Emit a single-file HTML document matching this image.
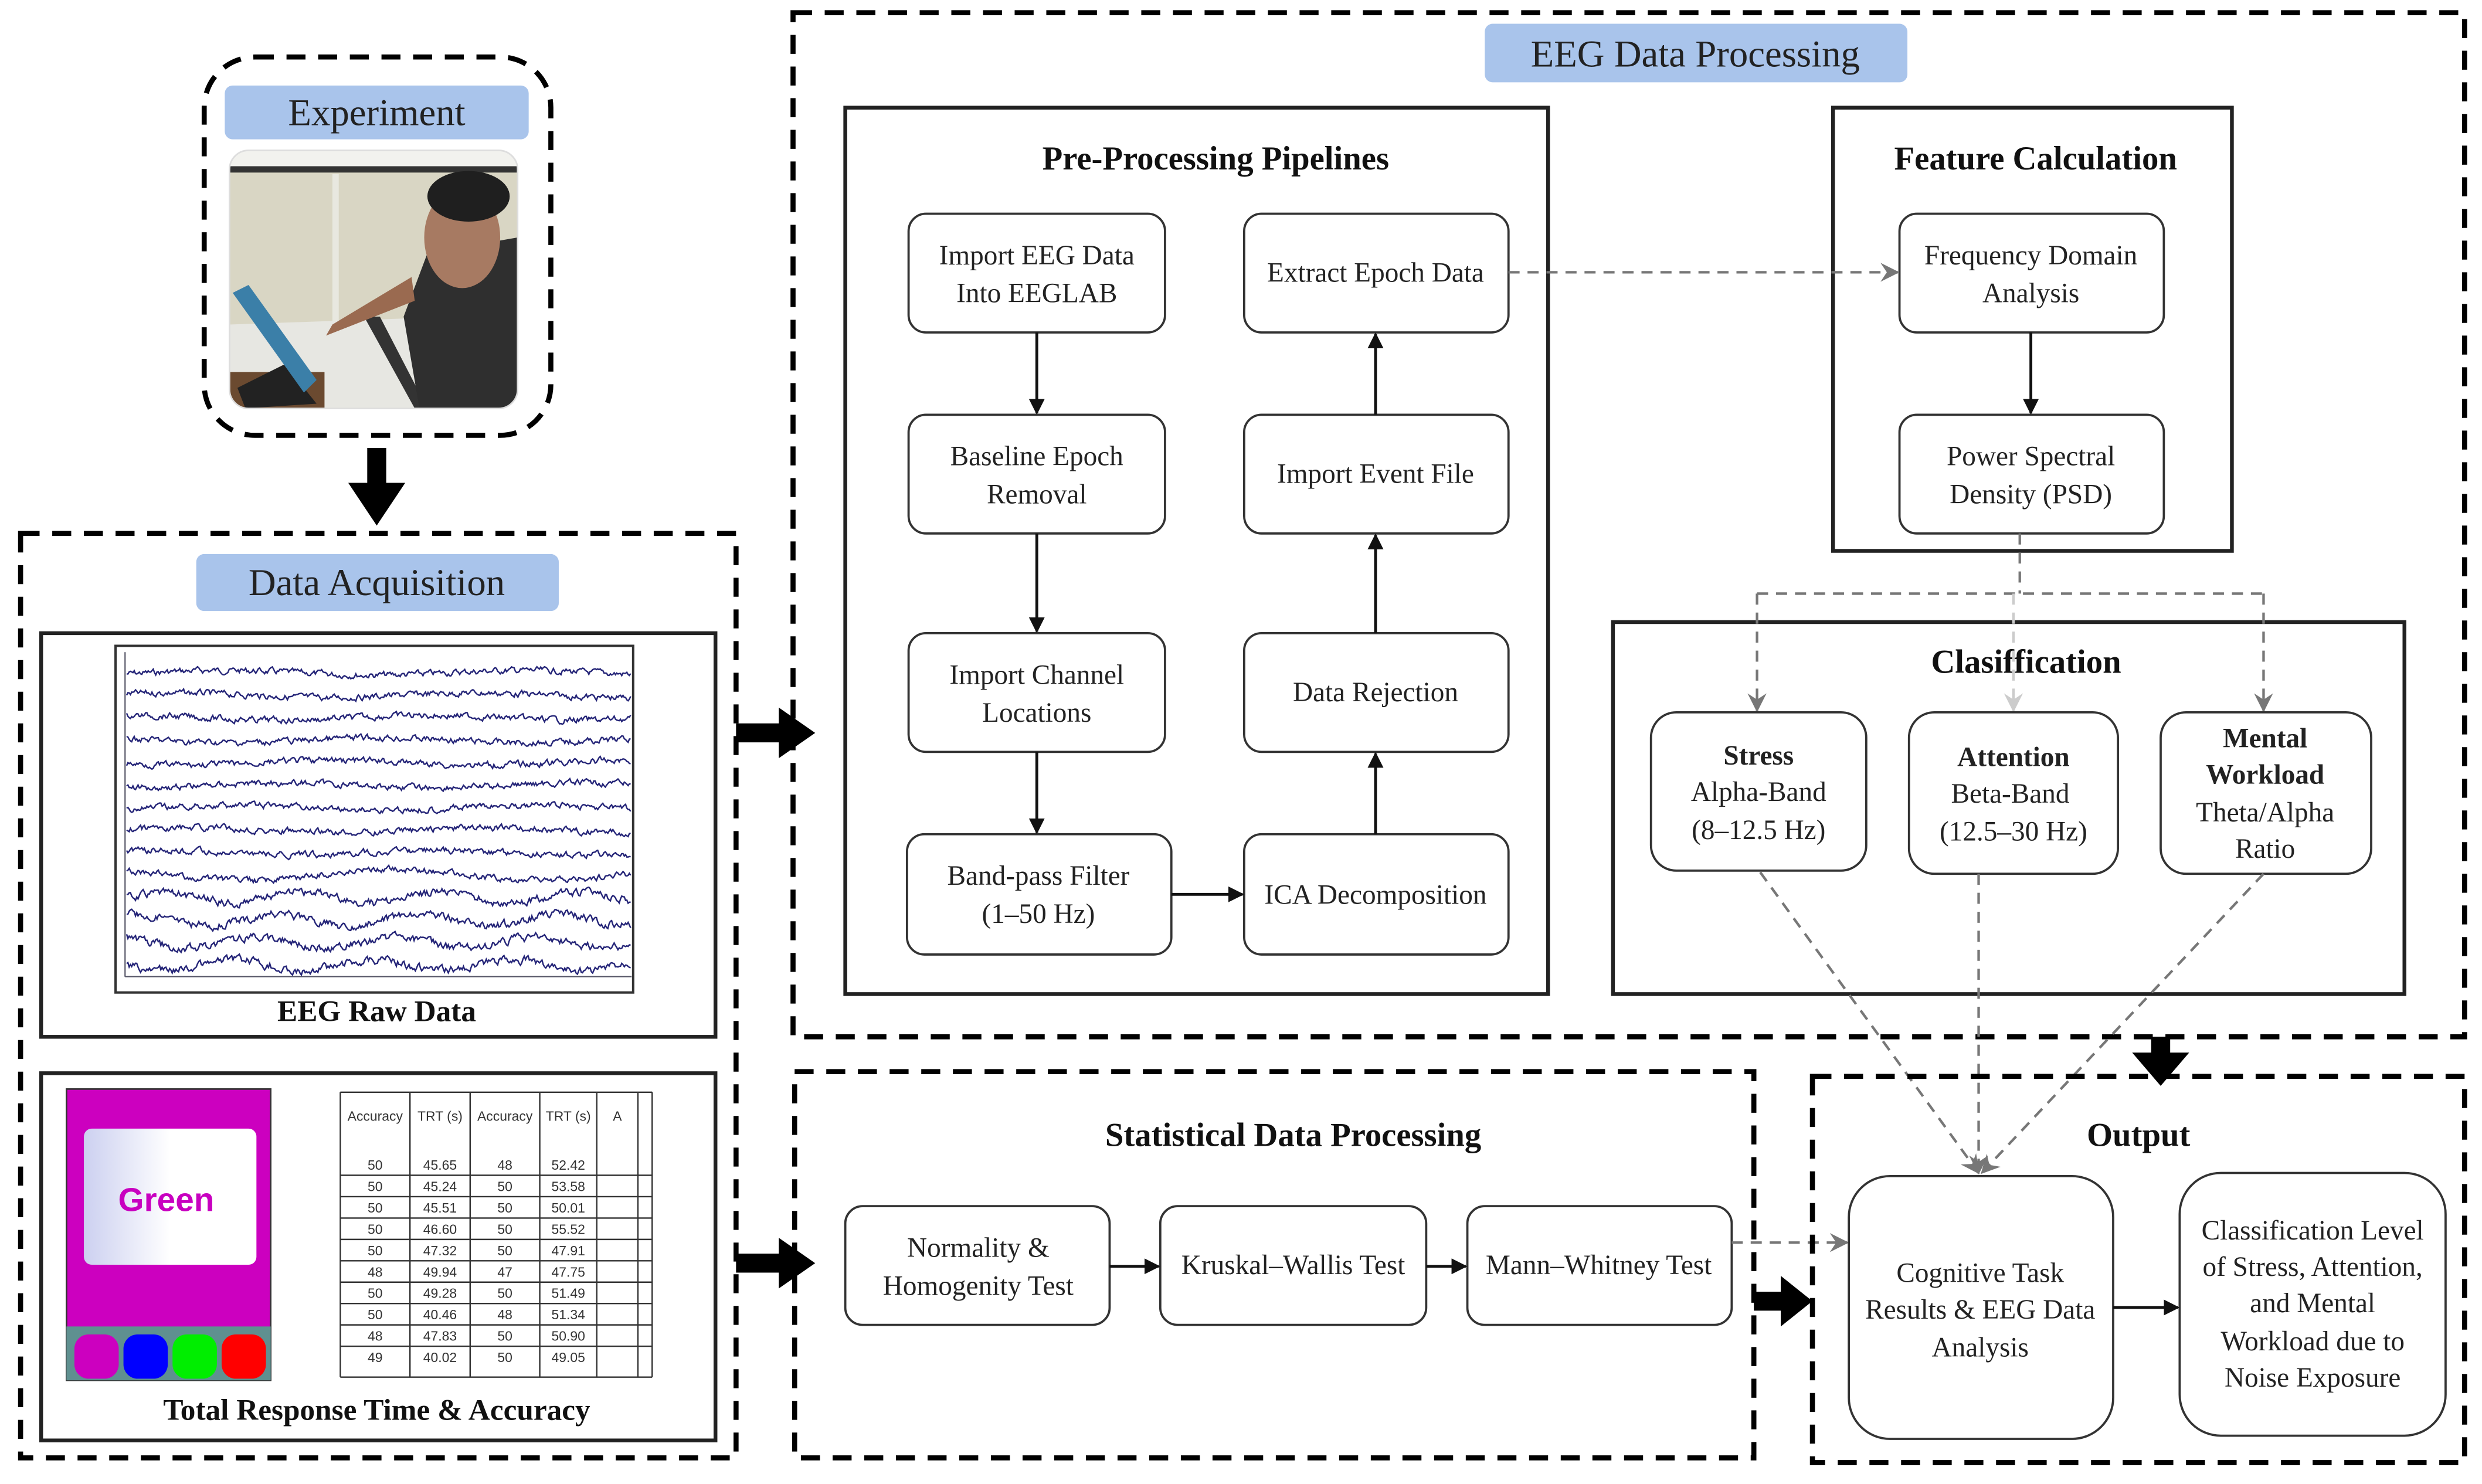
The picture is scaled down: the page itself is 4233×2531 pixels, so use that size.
<!DOCTYPE html>
<html><head><meta charset="utf-8"><style>
html,body{margin:0;padding:0;background:#fff}
svg{display:block}
text{font-family:"Liberation Serif",serif;fill:#222}
.t{font-size:17.5px;text-anchor:middle}
.b{font-size:21px;font-weight:bold;text-anchor:middle;fill:#111}
.lab{font-size:24px;text-anchor:middle;fill:#222}
.n{fill:#fff;stroke:#333;stroke-width:1.4}
.dash{fill:none;stroke:#000;stroke-width:3.2;stroke-dasharray:12 8}
.sol{fill:#fff;stroke:#222;stroke-width:2.4}
.ar{stroke:#111;stroke-width:1.8;fill:none;marker-end:url(#ah)}
.gd{stroke:#777;stroke-width:1.6;fill:none;stroke-dasharray:7 5}
</style></head><body>
<svg id="s" width="4233" height="2531" viewBox="0 0 1568 937.5" xmlns="http://www.w3.org/2000/svg">
<defs>
<marker id="ah" markerWidth="10" markerHeight="10" refX="9" refY="5" orient="auto" markerUnits="userSpaceOnUse"><path d="M0,0 L10,5 L0,10 z" fill="#111"/></marker>
<marker id="gh" markerWidth="12" markerHeight="12" refX="11" refY="6" orient="auto" markerUnits="userSpaceOnUse"><path d="M0,0 L12,6 L0,12 L4,6 z" fill="#777"/></marker>
<marker id="lh" markerWidth="12" markerHeight="12" refX="11" refY="6" orient="auto" markerUnits="userSpaceOnUse"><path d="M0,0 L12,6 L0,12 L4,6 z" fill="#ccc"/></marker>
<linearGradient id="gb" x1="0" x2="1"><stop offset="0" stop-color="#ccd0f0"/><stop offset="0.5" stop-color="#fff"/></linearGradient>
<clipPath id="pc"><rect x="145" y="95" width="182" height="163" rx="12"/></clipPath>
</defs>

<!-- Experiment -->
<rect class="dash" x="129" y="36" width="219" height="239" rx="32"/>
<rect x="142" y="54" width="192" height="34" rx="5" fill="#a9c4eb"/>
<text class="lab" x="238" y="79">Experiment</text>
<g clip-path="url(#pc)">
<rect x="145" y="95" width="182" height="163" fill="#d9d6c4"/>
<rect x="145" y="95" width="182" height="12" fill="#f2f2ee"/>
<rect x="145" y="105" width="182" height="4" fill="#333"/>
<rect x="210" y="110" width="4" height="100" fill="#e8e8e0"/>
<polygon points="145,205 290,200 310,258 145,258" fill="#e7e7e2"/>
<polygon points="230,200 240,200 270,258 262,258" fill="#333"/>
<rect x="145" y="235" width="60" height="23" fill="#6b4a30"/>
<polygon points="150,245 180,230 200,255 155,258" fill="#222"/>
<polygon points="147,185 157,180 200,240 192,248" fill="#3b7fa8"/>
<polygon points="270,160 327,150 327,258 265,258 255,200" fill="#2f2f2f"/>
<polygon points="260,175 210,205 206,212 262,190" fill="#9a6a50"/>
<ellipse cx="292" cy="150" rx="24" ry="32" fill="#a77a62"/>
<ellipse cx="296" cy="124" rx="26" ry="16" fill="#1f1f1f"/>
</g>
<rect x="145" y="95" width="182" height="163" rx="12" fill="none" stroke="#ddd"/>
<polygon points="232,283 244,283 244,305 256,305 238,332 220,305 232,305" fill="#000"/>

<!-- Data Acquisition -->
<rect class="dash" x="13" y="337" width="452" height="584"/>
<rect x="124" y="350" width="229" height="36" rx="5" fill="#a9c4eb"/>
<text class="lab" x="238" y="376">Data Acquisition</text>
<rect class="sol" x="26" y="400" width="426" height="255"/>
<rect x="73" y="408" width="327" height="219" fill="#fff" stroke="#333" stroke-width="1.5"/>
<line x1="79" y1="412" x2="79" y2="617" stroke="#556" stroke-width="0.8"/>
<line x1="79" y1="617" x2="399" y2="617" stroke="#556" stroke-width="0.8"/>
<g id="eeg" fill="none" stroke="#252578" stroke-width="0.9"></g>
<text class="b" x="238" y="645" style="font-size:19px">EEG Raw Data</text>

<rect class="sol" x="26" y="678" width="426" height="232"/>
<rect x="42" y="688" width="129" height="184" fill="#cc00bf" stroke="#333" stroke-width="1"/>
<rect x="53" y="713" width="109" height="86" rx="5" fill="url(#gb)"/>
<text x="105" y="765" style="font-family:'Liberation Sans',sans-serif;font-size:21px;font-weight:bold;fill:#c800c0;text-anchor:middle">Green</text>
<rect x="42" y="838" width="129" height="34" fill="#5f9090"/>
<rect x="47" y="843" width="28" height="28" rx="9" fill="#cc00bf"/>
<rect x="78" y="843" width="28" height="28" rx="9" fill="#0000ff"/>
<rect x="109" y="843" width="28" height="28" rx="9" fill="#00ee00"/>
<rect x="140" y="843" width="28" height="28" rx="9" fill="#ff0000"/>
<g id="tbl" fill="#333"></g>
<text class="b" x="238" y="897" style="font-size:19px">Total Response Time &amp; Accuracy</text>

<!-- big arrows -->
<polygon points="465,457 492,457 492,447 515,463 492,479 492,469 465,469" fill="#000"/>
<polygon points="465,792 492,792 492,782 515,798 492,814 492,804 465,804" fill="#000"/>
<polygon points="1108,816 1125,816 1125,806 1145,822 1125,838 1125,828 1108,828" fill="#000"/>
<polygon points="1359,655 1371,655 1371,665 1383,665 1365,686 1347,665 1359,665" fill="#000"/>

<!-- EEG Data Processing -->
<rect class="dash" x="501" y="8" width="1056" height="647"/>
<rect x="938" y="15" width="267" height="37" rx="5" fill="#a9c4eb"/>
<text class="lab" x="1071" y="42">EEG Data Processing</text>

<rect class="sol" x="534" y="68" width="444" height="560"/>
<text class="b" x="768" y="107">Pre-Processing Pipelines</text>
<rect class="n" x="574" y="135" width="162" height="75" rx="11"/>
<text class="t" x="655" y="167">Import EEG Data</text><text class="t" x="655" y="191">Into EEGLAB</text>
<rect class="n" x="574" y="262" width="162" height="75" rx="11"/>
<text class="t" x="655" y="294">Baseline Epoch</text><text class="t" x="655" y="318">Removal</text>
<rect class="n" x="574" y="400" width="162" height="75" rx="11"/>
<text class="t" x="655" y="432">Import Channel</text><text class="t" x="655" y="456">Locations</text>
<rect class="n" x="573" y="527" width="167" height="76" rx="11"/>
<text class="t" x="656" y="559">Band-pass Filter</text><text class="t" x="656" y="583">(1–50 Hz)</text>
<rect class="n" x="786" y="135" width="167" height="75" rx="11"/>
<text class="t" x="869" y="178">Extract Epoch Data</text>
<rect class="n" x="786" y="262" width="167" height="75" rx="11"/>
<text class="t" x="869" y="305">Import Event File</text>
<rect class="n" x="786" y="400" width="167" height="75" rx="11"/>
<text class="t" x="869" y="443">Data Rejection</text>
<rect class="n" x="786" y="527" width="167" height="76" rx="11"/>
<text class="t" x="869" y="571">ICA Decomposition</text>
<line class="ar" x1="655" y1="210" x2="655" y2="261"/>
<line class="ar" x1="655" y1="337" x2="655" y2="399"/>
<line class="ar" x1="655" y1="475" x2="655" y2="526"/>
<line class="ar" x1="740" y1="565" x2="785" y2="565"/>
<line class="ar" x1="869" y1="527" x2="869" y2="476"/>
<line class="ar" x1="869" y1="400" x2="869" y2="338"/>
<line class="ar" x1="869" y1="262" x2="869" y2="211"/>

<rect class="sol" x="1158" y="68" width="252" height="280"/>
<text class="b" x="1286" y="107">Feature Calculation</text>
<rect class="n" x="1200" y="135" width="167" height="75" rx="11"/>
<text class="t" x="1283" y="167">Frequency Domain</text><text class="t" x="1283" y="191">Analysis</text>
<rect class="n" x="1200" y="262" width="167" height="75" rx="11"/>
<text class="t" x="1283" y="294">Power Spectral</text><text class="t" x="1283" y="318">Density (PSD)</text>
<line class="ar" x1="1283" y1="210" x2="1283" y2="261"/>
<path class="gd" d="M953,172 H1199" marker-end="url(#gh)"/>

<rect class="sol" x="1019" y="393" width="500" height="235"/>
<text class="b" x="1280" y="425">Clasiffication</text>
<path class="gd" d="M1276,337 V375"/>
<path class="gd" d="M1110,375 H1430"/>
<path class="gd" d="M1110,375 V449" marker-end="url(#gh)"/>
<path d="M1272,375 V449" fill="none" stroke="#ccc" stroke-width="1.6" stroke-dasharray="7 5" marker-end="url(#lh)"/>
<path class="gd" d="M1430,375 V449" marker-end="url(#gh)"/>
<rect class="n" x="1043" y="450" width="136" height="100" rx="16"/>
<text class="t" x="1111" y="483" style="font-weight:bold">Stress</text>
<text class="t" x="1111" y="506">Alpha-Band</text><text class="t" x="1111" y="530">(8–12.5 Hz)</text>
<rect class="n" x="1206" y="450" width="132" height="102" rx="16"/>
<text class="t" x="1272" y="484" style="font-weight:bold">Attention</text>
<text class="t" x="1270" y="507">Beta-Band</text><text class="t" x="1272" y="531">(12.5–30 Hz)</text>
<rect class="n" x="1365" y="450" width="133" height="102" rx="16"/>
<text class="t" x="1431" y="472" style="font-weight:bold">Mental</text>
<text class="t" x="1431" y="495" style="font-weight:bold">Workload</text>
<text class="t" x="1431" y="519">Theta/Alpha</text><text class="t" x="1431" y="542">Ratio</text>
<path class="gd" d="M1112,551 L1250,741" marker-end="url(#gh)"/>
<path class="gd" d="M1250,552 V741" marker-end="url(#gh)"/>
<path class="gd" d="M1430,552 L1252,741" marker-end="url(#gh)"/>

<!-- Statistical -->
<rect class="dash" x="502" y="677" width="606" height="244"/>
<text class="b" x="817" y="724">Statistical Data Processing</text>
<rect class="n" x="534" y="762" width="167" height="75" rx="11"/>
<text class="t" x="618" y="794">Normality &amp;</text><text class="t" x="618" y="818">Homogenity Test</text>
<rect class="n" x="733" y="762" width="168" height="75" rx="11"/>
<text class="t" x="817" y="805">Kruskal–Wallis Test</text>
<rect class="n" x="927" y="762" width="167" height="75" rx="11"/>
<text class="t" x="1010" y="805">Mann–Whitney Test</text>
<line class="ar" x1="701" y1="800" x2="732" y2="800"/>
<line class="ar" x1="901" y1="800" x2="926" y2="800"/>
<path class="gd" d="M1094,785 H1167" marker-end="url(#gh)"/>

<!-- Output -->
<rect class="dash" x="1145" y="680" width="412" height="244"/>
<text class="b" x="1351" y="724">Output</text>
<rect class="n" x="1168" y="743" width="167" height="166" rx="26"/>
<text class="t" x="1251" y="810">Cognitive Task</text><text class="t" x="1251" y="833">Results &amp; EEG Data</text><text class="t" x="1251" y="857">Analysis</text>
<rect class="n" x="1377" y="741" width="168" height="166" rx="26"/>
<text class="t" x="1461" y="783">Classification Level</text><text class="t" x="1461" y="806">of Stress, Attention,</text><text class="t" x="1461" y="829">and Mental</text><text class="t" x="1461" y="853">Workload due to</text><text class="t" x="1461" y="876">Noise Exposure</text>
<line class="ar" x1="1335" y1="826" x2="1376" y2="826"/>
</svg>
<script>
(function(){
var ns="http://www.w3.org/2000/svg",g=document.getElementById("eeg");
var seed=7;function r(){seed=(seed*9301+49297)%233280;return seed/233280;}
for(var k=0;k<14;k++){var y0=425+k*14.2,d="",w=0;
for(var x=80;x<=399;x+=0.8){w=w*0.6+(r()-0.5)*(k>9?4.2:3.2);
var yy=y0+w+Math.sin(x/(k>9?14:30)+k)*(k>8?3.5:1.5);d+=(d?"L":"M")+x.toFixed(1)+","+yy.toFixed(1);}
var p=document.createElementNS(ns,"path");p.setAttribute("d",d);g.appendChild(p);}
var t=document.getElementById("tbl");
function L(x1,y1,x2,y2){var l=document.createElementNS(ns,"line");l.setAttribute("x1",x1);l.setAttribute("y1",y1);l.setAttribute("x2",x2);l.setAttribute("y2",y2);l.setAttribute("stroke","#333");l.setAttribute("stroke-width","0.9");t.appendChild(l);}
function T(x,y,s){var e=document.createElementNS(ns,"text");e.setAttribute("x",x);e.setAttribute("y",y);e.setAttribute("text-anchor","middle");e.setAttribute("style","font-family:'Liberation Sans',sans-serif;font-size:8.5px;fill:#333");e.textContent=s;t.appendChild(e);}
var xs=[215,259,297,341,377,403,412];
xs.forEach(function(x){L(x,690,x,870);});L(215,690,412,690);L(215,870,412,870);
var hd=["Accuracy","TRT (s)","Accuracy","TRT (s)","A"];
for(var i=0;i<5;i++)T((xs[i]+xs[i+1])/2,708,hd[i]);
var data=[["50","45.65","48","52.42"],["50","45.24","50","53.58"],["50","45.51","50","50.01"],["50","46.60","50","55.52"],["50","47.32","50","47.91"],["48","49.94","47","47.75"],["50","49.28","50","51.49"],["50","40.46","48","51.34"],["48","47.83","50","50.90"],["49","40.02","50","49.05"]];
for(var j=0;j<10;j++){var y=739+j*13.5;if(j>0)L(215,y-10,412,y-10);for(var i=0;i<4;i++)T((xs[i]+xs[i+1])/2,y,data[j][i]);}
})();
</script>
</body></html>
